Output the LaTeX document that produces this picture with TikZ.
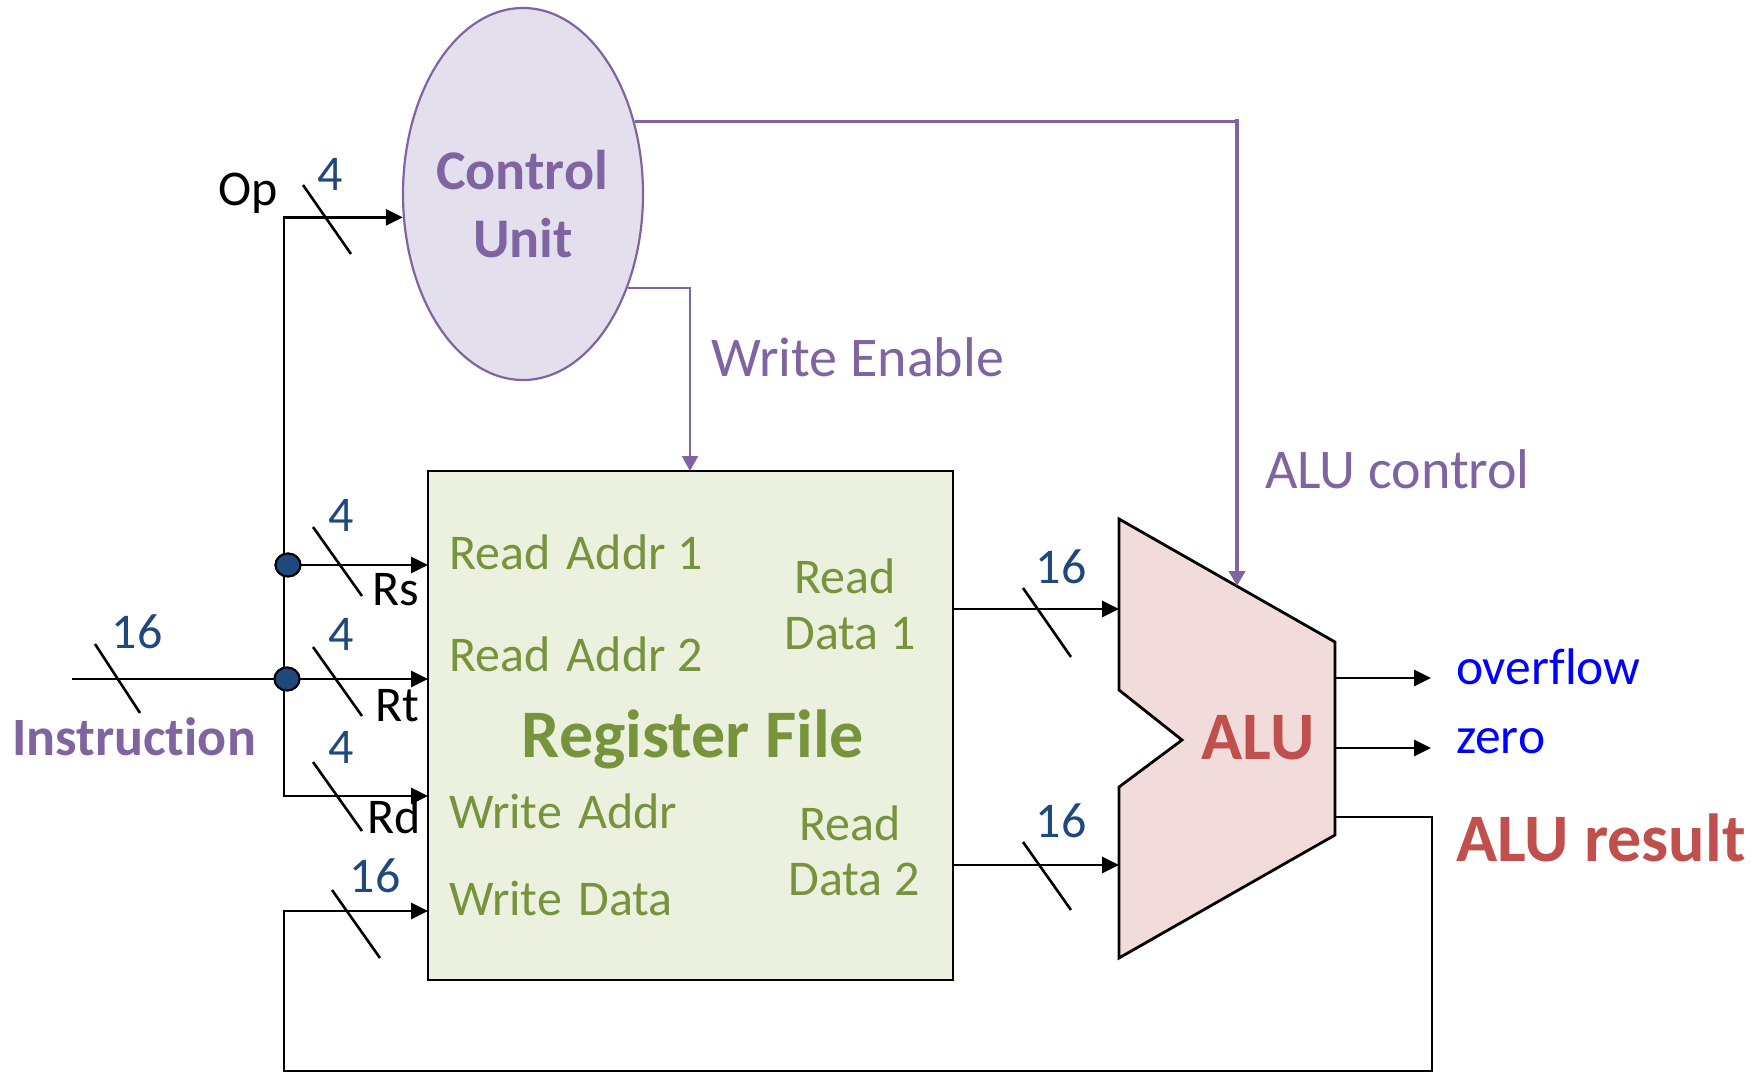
\documentclass[tikz,border=0pt]{standalone}
\usepackage{fontspec}
\setmainfont{Carlito}[Ligatures=NoCommon]
\usetikzlibrary{arrows.meta,shapes.geometric}

\definecolor{cupurple}{HTML}{8064A2}
\definecolor{cufill}{HTML}{E4DFEC}
\definecolor{rfgreen}{HTML}{77933C}
\definecolor{rffill}{HTML}{EBF1DE}
\definecolor{alured}{HTML}{C0504D}
\definecolor{alufill}{HTML}{F2DCDB}
\definecolor{busblue}{HTML}{1F497D}
\definecolor{flagblue}{HTML}{0000FF}

% wider word gap used in the register-file port names
\newcommand{\pgap}{\hspace{0.33em}}

\begin{document}
\begin{tikzpicture}[x=1pt,y=-1pt,
  xwire/.style={draw=black, line width=2.8pt, line join=miter},
  xtip/.style={-{Triangle[length=17pt,width=16pt]}},
  xtips/.style={{Triangle[length=17pt,width=16pt]}-{Triangle[length=17pt,width=16pt]}},
  ptip/.style={-{Triangle[length=15pt,width=16pt]}},
  ctlwire/.style={draw=cupurple, line width=2.2pt},
  busmark/.style={draw=black, line width=2.6pt},
  txt/.style={inner sep=0pt, outer sep=0pt},
  f50/.style={txt, font=\fontsize{50}{60}\selectfont},
  f51/.style={txt, font=\fontsize{51.5}{62}\selectfont},
  f56/.style={txt, font=\fontsize{56}{67}\selectfont},
  b54/.style={txt, font=\fontsize{54}{65}\selectfont\bfseries},
  b56/.style={txt, font=\fontsize{56}{67}\selectfont\bfseries},
  b68/.style={txt, font=\fontsize{68}{80}\selectfont\bfseries},
  buslbl/.style={f50, text=busblue, anchor=base},
  portlbl/.style={f50, text=rfgreen, anchor=base west},
  dlbl/.style={f50, text=rfgreen, anchor=base},
  junction/.style={ellipse, draw=black, fill=busblue, line width=2pt,
    minimum width=25pt, minimum height=23pt, inner sep=0pt},
]
\fill[white] (0,0) rectangle (1756,1073);
\useasboundingbox (0,0) rectangle (1756,1073);

% ---- blocks ----
\node[ellipse, draw=cupurple, fill=cufill, line width=2.2pt,
      minimum width=240pt, minimum height=372pt, inner sep=0pt] (cu) at (523,194) {};
\node[b56, text=cupurple, anchor=base] (cu-l1) at (522,189) {Control};
\node[b56, text=cupurple, anchor=base] (cu-l2) at (523,257) {Unit};

\node[rectangle, draw=black, fill=rffill, line width=2.8pt, inner sep=0pt, outer sep=0pt,
      minimum width=525pt, minimum height=509pt, anchor=north west] (rf) at (428,471) {};

% ALU outline with its input notch
\coordinate (alu-tl) at (1119,519);
\coordinate (alu-tr) at (1335,642);
\coordinate (alu-br) at (1335,835);
\coordinate (alu-bl) at (1119,958);
\coordinate (alu-n1) at (1119,787);
\coordinate (alu-nt) at (1182,740);
\coordinate (alu-n2) at (1119,690);
\draw[fill=alufill, line width=2.8pt, line join=miter]
  (alu-tl) -- (alu-tr) -- (alu-br) -- (alu-bl) -- (alu-n1) -- (alu-nt) -- (alu-n2) -- cycle;

% ports
\coordinate (alu-a) at (1119,609);
\coordinate (alu-b) at (1119,865);
\coordinate (alu-ctl) at (1237,586);
\coordinate (alu-ov) at (1335,678);
\coordinate (alu-z) at (1335,748);
\coordinate (alu-res) at (1335,817);
\coordinate (ov-end) at (1431,678);
\coordinate (z-end) at (1431,748);
\coordinate (we-in) at (690,471);
\coordinate (bus-bot) at (284,796);
\coordinate (instr) at (72,679);
\coordinate (loop-br) at (1432,1071);
\coordinate (loop-bl) at (284,1071);
\coordinate (wd-in) at (428,911);

% ---- control signals ----
\draw[ctlwire] (cu.33) -- (cu.33 -| alu-ctl);
\draw[ctlwire, line width=4.2pt, line cap=rect, ptip] (cu.33 -| alu-ctl) -- (alu-ctl);
\draw[ctlwire, ptip] (cu.-42) -| (we-in);

% ---- instruction fields ----
\node[junction] (j1) at (288,565) {};
\node[junction] (j2) at (287,679) {};
\draw[xwire] (instr) -- (j2.center);
\draw[xwire, xtips] (rf.west |- bus-bot) -- (bus-bot) |- (cu.191);
\draw[xwire, xtip] (j1.center) -- (rf.west |- j1.center);
\draw[xwire, xtip] (j2.center) -- (rf.west |- j2.center);
\node[junction] at (j1) {};
\node[junction] at (j2) {};

% ---- data path ----
\draw[xwire, xtip] (rf.east |- alu-a) -- (alu-a);
\draw[xwire, xtip] (rf.east |- alu-b) -- (alu-b);
\draw[xwire, xtip] (alu-ov) -- (ov-end);
\draw[xwire, xtip] (alu-z) -- (z-end);
\draw[xwire, xtip] (alu-res) -| (loop-br) -- (loop-bl) |- (wd-in);

% ---- bus width marks ----
\draw[busmark] (303,185) -- (351,254);
\draw[busmark] (95,644) -- (140,713);
\draw[busmark] (313,527) -- (362,596);
\draw[busmark] (313,647) -- (362,716);
\draw[busmark] (313,762) -- (362,831);
\draw[busmark] (332,890) -- (380,958);
\draw[busmark] (1023,588) -- (1071,657);
\draw[busmark] (1023,842) -- (1071,910);

\node[buslbl] (w-op) at (330,190) {4};
\node[buslbl] (w-rs) at (341,531) {4};
\node[buslbl] (w-rt) at (341,650) {4};
\node[buslbl] (w-rd) at (341,763) {4};
\node[buslbl] (w-in) at (137,648) {16};
\node[buslbl] (w-wd) at (375,892) {16};
\node[buslbl] (w-d1) at (1061,583) {16};
\node[buslbl] (w-d2) at (1061,837) {16};

% ---- labels ----
\node[f50, anchor=base] (op) at (248,205) {Op};
\node[f50, anchor=base east] (rs) at (419,605) {Rs};
\node[f50, anchor=base east] (rt) at (419,721) {Rt};
\node[f50, anchor=base east] (rd) at (421,833) {Rd};
\node[b54, text=cupurple, anchor=base] (instr-lbl) at (134,755) {Instruction};

\node[f56, text=cupurple, anchor=base west] (we-lbl) at (711,376) {Write Enable};
\node[f56, text=cupurple, anchor=base west] (ctl-lbl) at (1265,488) {ALU control};

\node[portlbl] (ra1) at (449,569) {Read\pgap Addr 1};
\node[portlbl] (ra2) at (449,671) {Read\pgap Addr 2};
\node[portlbl] (wa) at (449,828) {Write\pgap Addr};
\node[portlbl] (wd) at (449,915) {Write\pgap Data};
\node[dlbl] (rd1a) at (845,593) {Read};
\node[dlbl] (rd1b) at (850,649) {Data 1};
\node[dlbl] (rd2a) at (850,840) {Read};
\node[dlbl] (rd2b) at (854,895) {Data 2};
\node[b68, text=rfgreen, anchor=base] (rf-lbl) at (693,757) {Register File};

\node[b68, text=alured, anchor=base] (alu-lbl) at (1258,759) {ALU};
\node[f51, text=flagblue, anchor=base west] (ov-lbl) at (1456,684) {overflow};
\node[f51, text=flagblue, anchor=base west] (z-lbl) at (1456,753) {zero};
\node[b68, text=alured, anchor=base west] (res-lbl) at (1456,861) {ALU result};
\end{tikzpicture}
\end{document}
